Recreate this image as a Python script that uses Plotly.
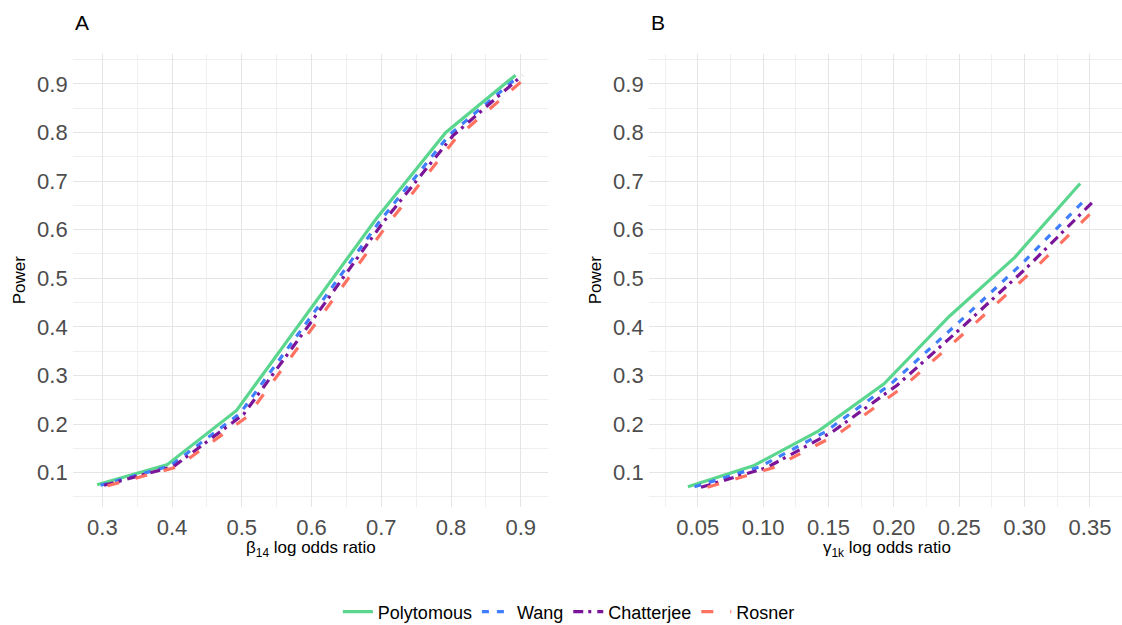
import plotly.graph_objects as go

# ---- data ----
series_names = ["Polytomous", "Wang", "Chatterjee", "Rosner"]
beta_x = [0.3, 0.4, 0.5, 0.6, 0.7, 0.8, 0.9]
gamma_x = [0.05, 0.10, 0.15, 0.20, 0.25, 0.30, 0.35]

power_A_polytomous = [0.075, 0.116, 0.228, 0.425, 0.622, 0.800, 0.918]
power_A_wang = [0.074, 0.114, 0.222, 0.418, 0.617, 0.795, 0.916]
power_A_chatterjee = [0.074, 0.113, 0.220, 0.416, 0.615, 0.793, 0.918]
power_A_rosner = [0.073, 0.112, 0.215, 0.410, 0.608, 0.789, 0.913]

power_B_polytomous = [0.071, 0.114, 0.186, 0.283, 0.422, 0.543, 0.695]
power_B_wang = [0.071, 0.112, 0.184, 0.282, 0.404, 0.529, 0.665]
power_B_chatterjee = [0.070, 0.110, 0.183, 0.280, 0.400, 0.524, 0.658]
power_B_rosner = [0.070, 0.110, 0.180, 0.277, 0.396, 0.519, 0.652]

x_ticks_A = [0.3, 0.4, 0.5, 0.6, 0.7, 0.8, 0.9]
x_ticks_B = [0.05, 0.10, 0.15, 0.20, 0.25, 0.30, 0.35]
y_ticks = [0.1, 0.2, 0.3, 0.4, 0.5, 0.6, 0.7, 0.8, 0.9]

# ---- style ----
colors = ["#5BD68F", "#3F7FFF", "#7A1499", "#FF7262"]
dashes = ["solid", "7px,8px", "10px,5px,3px,6px", "12px,17px"]
dodge = [-0.0075, -0.0025, 0.0025, 0.0075]

W, H = 1122, 625
fig = go.Figure()

panel_A = [power_A_polytomous, power_A_wang, power_A_chatterjee, power_A_rosner]
panel_B = [power_B_polytomous, power_B_wang, power_B_chatterjee, power_B_rosner]

for i, name in enumerate(series_names):
    fig.add_trace(go.Scatter(
        x=[v + dodge[i] for v in beta_x], y=panel_A[i], mode="lines", name=name,
        line=dict(color=colors[i], width=3.2, dash=dashes[i]),
        showlegend=True, legendgroup=name, xaxis="x", yaxis="y"))
for i, name in enumerate(series_names):
    fig.add_trace(go.Scatter(
        x=[v + dodge[i] for v in gamma_x], y=panel_B[i], mode="lines", name=name,
        line=dict(color=colors[i], width=3.2, dash=dashes[i]),
        showlegend=False, legendgroup=name, xaxis="x2", yaxis="y2"))

# pixel geometry
ax_l, ax_r = 72.7, 548.3
bx_l, bx_r = 648.7, 1122.0
y_top, y_bot = 54.0, 506.7
yd = [1 - y_bot / H, 1 - y_top / H]

grid_major = "#E5E5E5"
grid_minor = "#EFEFEF"
tickfont = dict(family="Liberation Sans, Arial, sans-serif", size=22, color="#4D4D4D")

def xaxis_cfg(dom, rng, tickvals, fmt, minor_d, anchor):
    return dict(domain=dom, range=rng, tickvals=tickvals,
                ticktext=[fmt.format(v) for v in tickvals],
                showgrid=True, gridcolor=grid_major, gridwidth=1,
                minor=dict(dtick=minor_d, tick0=tickvals[0], showgrid=True,
                           gridcolor=grid_minor, gridwidth=1),
                zeroline=False, showline=False, ticks="", automargin=False,
                tickfont=tickfont, ticklabelstandoff=5, anchor=anchor)

def yaxis_cfg(anchor):
    return dict(domain=yd, range=[0.030, 0.9615], tickvals=y_ticks,
                ticktext=["{:.1f}".format(v) for v in y_ticks],
                showgrid=True, gridcolor=grid_major, gridwidth=1,
                minor=dict(dtick=0.05, tick0=0.05, showgrid=True,
                           gridcolor=grid_minor, gridwidth=1),
                zeroline=False, showline=False, ticks="", automargin=False,
                tickfont=tickfont, ticklabelstandoff=4, anchor=anchor)

fig.update_layout(
    width=W, height=H,
    margin=dict(l=0, r=0, t=0, b=0, autoexpand=False),
    paper_bgcolor="white", plot_bgcolor="white",
    font=dict(family="Liberation Sans, Arial, sans-serif", color="black"),
    xaxis=xaxis_cfg([ax_l / W, ax_r / W], [0.2575, 0.9395], x_ticks_A, "{:.1f}", 0.05, "y"),
    xaxis2=xaxis_cfg([bx_l / W, bx_r / W], [0.0125, 0.3745], x_ticks_B, "{:.2f}", 0.025, "y2"),
    yaxis=yaxis_cfg("x"),
    yaxis2=yaxis_cfg("x2"),
    legend=dict(orientation="h", x=0.507, xanchor="center",
                yref="container", y=1 - 612 / H, yanchor="middle",
                font=dict(size=18, color="black"), bgcolor="rgba(0,0,0,0)",
                itemwidth=30, tracegroupgap=0),
)

ann = []
ann.append(dict(text="A", x=73 / W, y=1 - 22.5 / H, xref="paper", yref="paper",
                xanchor="left", yanchor="middle", showarrow=False,
                font=dict(size=21, color="black")))
ann.append(dict(text="B", x=649 / W, y=1 - 22.5 / H, xref="paper", yref="paper",
                xanchor="left", yanchor="middle", showarrow=False,
                font=dict(size=21, color="black")))
for xc in [19, 19 + 576]:
    ann.append(dict(text="Power", x=xc / W, y=1 - 280.3 / H, xref="paper", yref="paper",
                    xanchor="center", yanchor="middle", textangle=-90, showarrow=False,
                    font=dict(size=17, color="black")))
ann.append(dict(text="β<sub>14</sub> log odds ratio", x=(ax_l + ax_r) / 2 / W, y=1 - 549 / H,
                xref="paper", yref="paper", xanchor="center", yanchor="middle",
                showarrow=False, font=dict(size=17, color="black")))
ann.append(dict(text="γ<sub>1k</sub> log odds ratio", x=(ax_l + ax_r + 1152) / 2 / W, y=1 - 549 / H,
                xref="paper", yref="paper", xanchor="center", yanchor="middle",
                showarrow=False, font=dict(size=17, color="black")))
fig.update_layout(annotations=ann)

fig.write_html(
    "out.html",
    config={"displayModeBar": False},
    post_script="document.body.style.margin='0';document.body.style.overflow='hidden';",
)
